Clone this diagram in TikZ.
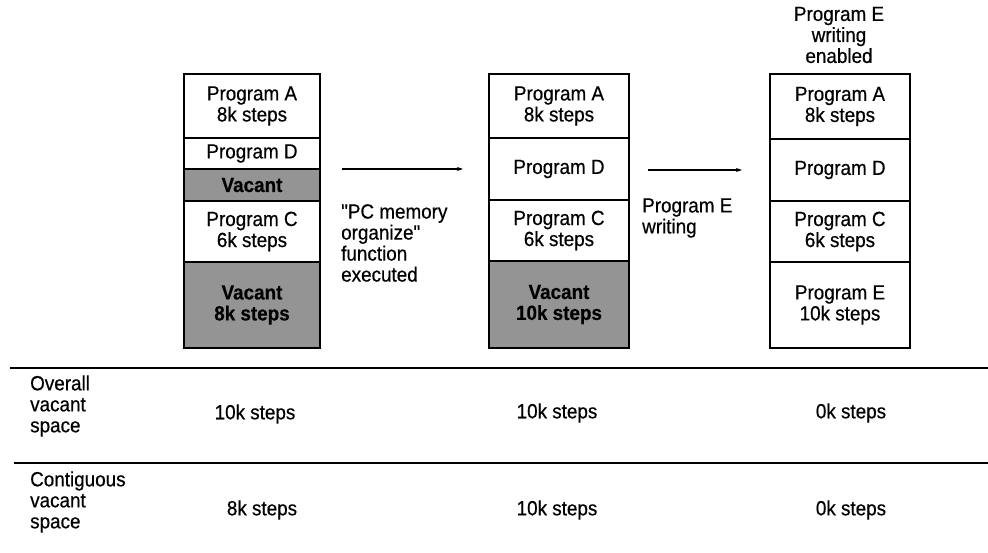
\documentclass[tikz,border=0pt]{standalone}
\usepackage{fontspec}
\setmainfont{Liberation Sans}[FakeStretch=0.92, FakeBold=0.5]
\newfontfamily\qfont{Liberation Sans}[FakeStretch=0.92, FakeBold=0.5]
\usetikzlibrary{arrows.meta}
\begin{document}
\begin{tikzpicture}[x=1pt,y=-1pt,
  every node/.style={font=\fontsize{20.5}{21}\selectfont, inner sep=0pt},
  cell/.style={draw=black, line width=1.1pt, align=center, minimum width=136pt},
  vac/.style={cell, fill=black!42, font=\fontsize{20.5}{21}\selectfont\bfseries},
  lbl/.style={anchor=west, align=left},
  val/.style={anchor=center},
  arr/.style={line width=1.4pt, -{Stealth[length=6pt,width=4pt]}},
  rule/.style={line width=1.7pt}]
\useasboundingbox (0,0) rectangle (988,553);
% column 1
\node[cell, minimum height=64pt]   (a1) at (252,106)   {Program A\\8k steps};
\node[cell, minimum height=31pt]   (d1) at (252,153.5) {Program D};
\node[vac,  minimum height=32pt]   (v1) at (252,185)   {Vacant};
\node[cell, minimum height=61pt]   (c1) at (252,231.5) {Program C\\6k steps};
\node[vac,  minimum height=86pt]   (w1) at (252,305)   {Vacant\\8k steps};
% column 2
\node[cell, minimum width=140pt, minimum height=64pt] (a2) at (559,106)   {Program A\\8k steps};
\node[cell, minimum width=140pt, minimum height=62pt] (d2) at (559,169)   {Program D};
\node[cell, minimum width=140pt, minimum height=61pt] (c2) at (559,230.5) {Program C\\6k steps};
\node[vac,  minimum width=140pt, minimum height=87pt] (w2) at (559,304.5) {Vacant\\10k steps};
% column 3
\node[cell, minimum width=140pt, minimum height=65pt] (a3) at (840,106.5) {Program A\\8k steps};
\node[cell, minimum width=140pt, minimum height=62pt] (d3) at (840,170)   {Program D};
\node[cell, minimum width=140pt, minimum height=61pt] (c3) at (840,231.5) {Program C\\6k steps};
\node[cell, minimum width=140pt, minimum height=86pt] (e3) at (840,305)   {Program E\\10k steps};
\node[align=center] (hdr) at (839,35) {Program E\\writing\\enabled};
% arrows
\coordinate (s1) at (342,169);
\coordinate (t1) at (463,169);
\coordinate (s2) at (648,170);
\coordinate (t2) at (742,170);
\draw[arr] (s1) -- (t1);
\draw[arr] (s2) -- (t2);
\node[lbl] (pc) at (341,243) {{\qfont"}PC memory\\organize{\qfont"}\\function\\executed};
\node[lbl] (pe) at (642,218) {Program E\\writing};
% table
\coordinate (r1l) at (10,368);
\coordinate (r1r) at (988,368);
\coordinate (r2l) at (14,463);
\coordinate (r2r) at (988,463);
\draw[rule] (r1l) -- (r1r);
\draw[rule] (r2l) -- (r2r);
\node[lbl] (ov) at (30,406) {Overall\\vacant\\space};
\node[val] (ov1) at (255,414) {10k steps};
\node[val] (ov2) at (557,413) {10k steps};
\node[val] (ov3) at (851,413) {0k steps};
\node[lbl] (co) at (30,502) {Contiguous\\vacant\\space};
\node[val] (co1) at (262,510) {8k steps};
\node[val] (co2) at (557,510) {10k steps};
\node[val] (co3) at (851,510) {0k steps};
\end{tikzpicture}
\end{document}
